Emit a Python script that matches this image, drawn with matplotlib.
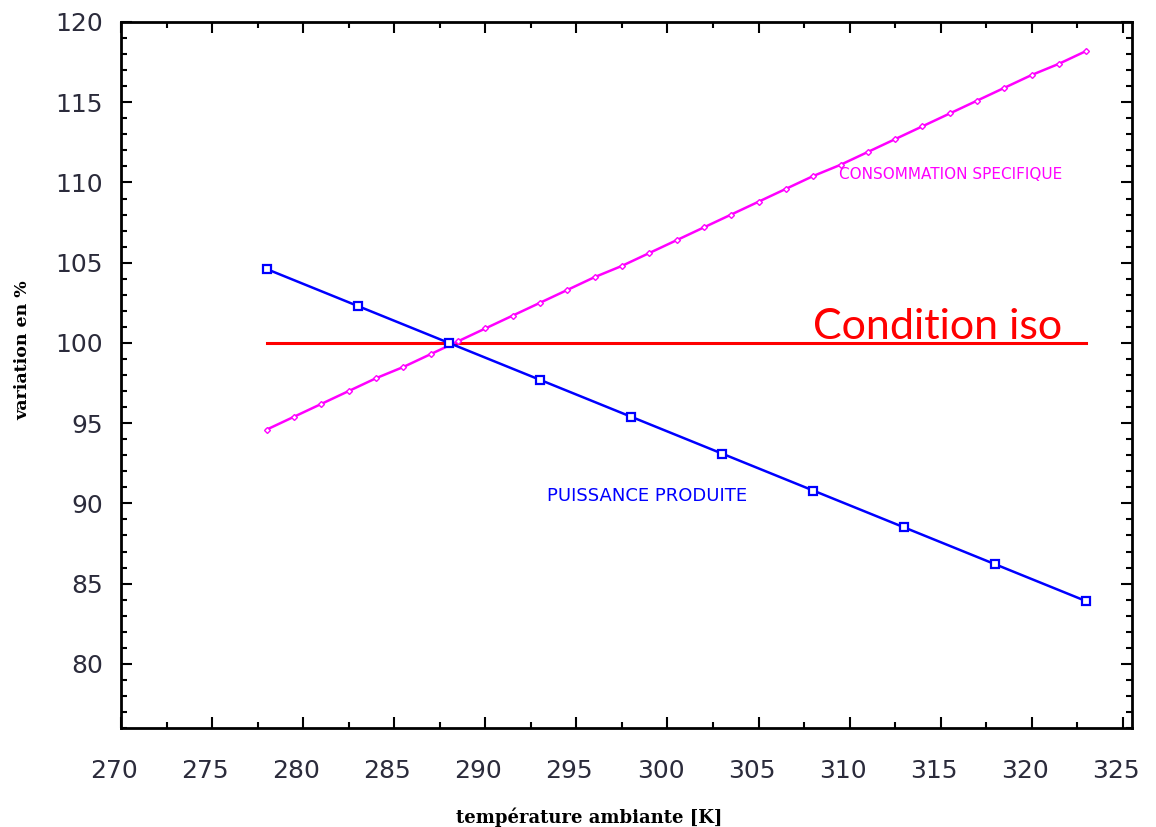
import matplotlib
matplotlib.use('Agg')
import matplotlib.pyplot as plt
from matplotlib.ticker import MultipleLocator
from matplotlib.transforms import ScaledTranslation

# puissance produite (%)
temp_p = [278, 283, 288, 293, 298, 303, 308, 313, 318, 323]
puissance = [104.6, 102.3, 100.0, 97.7, 95.4, 93.1, 90.8, 88.5, 86.2, 83.9]

# consommation specifique (%)
temp_c = [278, 279.5, 281, 282.5, 284, 285.5, 287, 288.5, 290, 291.5, 293,
          294.5, 296, 297.5, 299, 300.5, 302, 303.5, 305, 306.5, 308, 309.5,
          311, 312.5, 314, 315.5, 317, 318.5, 320, 321.5, 323]
conso = [94.6, 95.4, 96.2, 97.0, 97.8, 98.5, 99.3, 100.1, 100.9, 101.7, 102.5,
         103.3, 104.1, 104.8, 105.6, 106.4, 107.2, 108.0, 108.8, 109.6, 110.4, 111.1,
         111.9, 112.7, 113.5, 114.3, 115.1, 115.9, 116.7, 117.4, 118.2]

# condition iso
temp_iso = [278, 323]
iso = [100, 100]

fig = plt.figure(figsize=(11.56, 8.27), dpi=100)
ax = fig.add_axes([0.1047, 0.1197, 0.8745, 0.8537])

ax.plot(temp_iso, iso, color='#ff0000', lw=2.2)
ax.plot(temp_c, conso, color='#ff00ff', lw=1.8, marker='D', ms=3,
        mfc='white', mec='#ff00ff', mew=1)
ax.plot(temp_p, puissance, color='#0000ff', lw=1.8, marker='s', ms=6,
        mfc='white', mec='#0000ff', mew=1.6)

ax.text(308, 101.0, 'Condition iso', color='#ff0000', fontsize=31,
        family='Lato', va='center', ha='left')
ax.text(309.4, 110.5, 'CONSOMMATION SPECIFIQUE', color='#ff00ff', fontsize=11,
        va='center', ha='left')
ax.text(293.4, 90.45, 'PUISSANCE PRODUITE', color='#0000ff', fontsize=13,
        va='center', ha='left')

ax.set_xlim(270, 325.5)
ax.set_ylim(76, 120)
ax.xaxis.set_major_locator(MultipleLocator(5))
ax.xaxis.set_minor_locator(MultipleLocator(2.5))
ax.yaxis.set_major_locator(MultipleLocator(5))
ax.yaxis.set_minor_locator(MultipleLocator(1))

ax.tick_params(which='both', direction='in', top=True, right=True,
               labelsize=18, labelcolor='#2b2b3b', width=1.5)
ax.tick_params(which='major', length=8)
ax.tick_params(which='minor', length=4)
ax.tick_params(axis='x', pad=22)
ax.tick_params(axis='y', pad=13)
for s in ax.spines.values():
    s.set_linewidth(2)

offset = ScaledTranslation(-7 / 100, 0, fig.dpi_scale_trans)
for lab in ax.get_xticklabels():
    lab.set_transform(lab.get_transform() + offset)

ax.set_xlabel('température ambiante [K]', family='DejaVu Serif',
              fontweight='bold', fontsize=13)
ax.xaxis.set_label_coords(0.463, -0.112)
ax.set_ylabel('variation en %', family='DejaVu Serif', fontweight='bold',
              fontsize=12.5)
ax.yaxis.set_label_coords(-0.089, 0.535)

fig.savefig('out.png', dpi=100)
